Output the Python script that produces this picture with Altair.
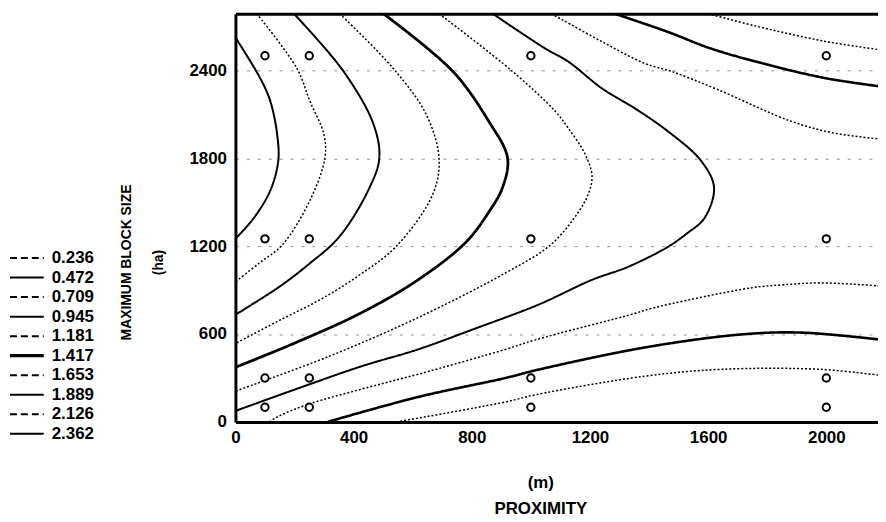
import altair as alt
import pandas as pd

FONT = "Liberation Sans"

levels = ["0.236", "0.472", "0.709", "0.945", "1.181", "1.417", "1.653", "1.889", "2.126", "2.362"]

# sampling grid (open circles)
sample_x = [100, 250, 1000, 2000]
sample_y = [100, 300, 1250, 2500]

x_ticks = [0, 400, 800, 1200, 1600, 2000]
y_ticks = [0, 600, 1200, 1800, 2400]

# contour traces (proximity m, block size ha)
c2362_x = [0, 84, 118, 141, 145, 118, 64, 0]
c2362_y = [2625, 2346, 2190, 1966, 1783, 1580, 1397, 1250]

c2126_x = [72, 208, 252, 299, 303, 252, 158, 81, 0]
c2126_y = [2787, 2414, 2190, 1966, 1803, 1512, 1207, 1085, 956]

c1889_x = [198, 366, 467, 487, 454, 352, 249, 148, 0]
c1889_y = [2787, 2393, 2034, 1803, 1600, 1265, 1078, 922, 732]

c1653_x = [353, 534, 645, 689, 669, 545, 420, 286, 141, 0]
c1653_y = [2787, 2414, 2102, 1803, 1559, 1200, 1003, 834, 685, 535]

c1417_x = [501, 736, 857, 921, 904, 860, 780, 618, 427, 205, 0]
c1417_y = [2787, 2393, 2054, 1803, 1600, 1440, 1227, 970, 746, 542, 373]

c1181_x = [689, 938, 1082, 1126, 1183, 1207, 1195, 1160, 1066, 914, 618, 316, 0]
c1181_y = [2787, 2393, 2122, 2007, 1831, 1681, 1560, 1430, 1207, 1017, 712, 447, 210]

c0945_x = [871, 1049, 1126, 1240, 1351, 1462, 1576, 1620, 1587, 1529, 1462, 1328, 1207, 1025, 803, 618, 427, 205, 0]
c0945_y = [2787, 2549, 2461, 2278, 2142, 1987, 1783, 1600, 1390, 1288, 1193, 1058, 970, 800, 631, 495, 380, 224, 75]

c0709_top_x = [1069, 1106, 1240, 1385, 1476, 1630, 1879, 2024, 2178]
c0709_top_y = [2787, 2746, 2597, 2448, 2393, 2271, 2054, 1973, 1932]
c0709_bot_x = [115, 148, 249, 427, 618, 914, 1015, 1351, 1408, 1745, 1855, 1980, 2178]
c0709_bot_y = [0, 41, 122, 224, 325, 495, 560, 740, 775, 915, 936, 949, 929]

c0472_top_x = [1284, 1462, 1610, 1798, 2000, 2178]
c0472_top_y = [2787, 2664, 2549, 2441, 2346, 2292]
c0472_bot_x = [312, 618, 914, 1015, 1385, 1711, 1913, 2178]
c0472_bot_y = [0, 170, 300, 352, 508, 597, 610, 563]

c0236_top_x = [1600, 1798, 2000, 2178]
c0236_top_y = [2787, 2685, 2597, 2542]
c0236_bot_x = [545, 914, 1015, 1385, 1644, 1980, 2178]
c0236_bot_y = [0, 136, 185, 312, 359, 359, 319]

segments = [
    ("2.362", "a", c2362_x, c2362_y),
    ("2.126", "a", c2126_x, c2126_y),
    ("1.889", "a", c1889_x, c1889_y),
    ("1.653", "a", c1653_x, c1653_y),
    ("1.417", "a", c1417_x, c1417_y),
    ("1.181", "a", c1181_x, c1181_y),
    ("0.945", "a", c0945_x, c0945_y),
    ("0.709", "top", c0709_top_x, c0709_top_y),
    ("0.709", "bot", c0709_bot_x, c0709_bot_y),
    ("0.472", "top", c0472_top_x, c0472_top_y),
    ("0.472", "bot", c0472_bot_x, c0472_bot_y),
    ("0.236", "top", c0236_top_x, c0236_top_y),
    ("0.236", "bot", c0236_bot_x, c0236_bot_y),
]

rows = []
for lev, seg, xs, ys in segments:
    for i, (xv, yv) in enumerate(zip(xs, ys)):
        rows.append({"level": lev, "seg": lev + "_" + seg, "ord": i, "x": xv, "y": yv})
lines_df = pd.DataFrame(rows)

points_df = pd.DataFrame([{"x": a, "y": b} for a in sample_x for b in sample_y])
legend_df = pd.DataFrame({"level": levels, "idx": list(range(len(levels)))})

# styles
chart_dash = [[2, 2], [1, 0], [2, 2], [1, 0], [2, 2], [1, 0], [2, 2], [1, 0], [2, 2], [1, 0]]
chart_width = [1.5, 2.6, 1.5, 2.0, 1.5, 2.8, 1.5, 2.0, 1.5, 2.0]
legend_dash = [[7, 4], [1, 0], [7, 4], [1, 0], [7, 4], [1, 0], [7, 4], [1, 0], [7, 4], [1, 0]]
legend_width = [2, 2, 2, 2, 2, 3.2, 2, 2, 2, 2]

xscale = alt.Scale(domain=[0, 2175], nice=False, zero=False)
yscale = alt.Scale(domain=[0, 2787], nice=False, zero=False)

x_axis = alt.Axis(
    values=x_ticks, format="d", title=["(m)", "PROXIMITY"],
    labelFont=FONT, labelFontSize=17, labelFontWeight="bold", labelColor="black",
    labelPadding=8, labelFlush=False, ticks=False, grid=False,
    domainColor="black", domainWidth=3,
    titleFont=FONT, titleFontSize=17, titleFontWeight="bold", titleColor="black",
    titleX=307, titleY=61, titleAlign="center", titleBaseline="middle", titleLineHeight=26,
)
top_axis = alt.Axis(orient="top", labels=False, ticks=False, title=None, grid=False,
                    domainColor="black", domainWidth=3)
y_axis = alt.Axis(
    values=y_ticks, format="d",
    title=["MAXIMUM BLOCK SIZE", "\u00a0" * 16 + "(ha)"],
    labelFont=FONT, labelFontSize=17, labelFontWeight="bold", labelColor="black",
    labelPadding=9, ticks=False,
    domainColor="black", domainWidth=3,
    grid=True, gridColor="#444444", gridDash=[3, 8], gridWidth=1, gridOpacity=0.6,
    titleFont=FONT, titleFontSize=14, titleFontWeight="bold", titleColor="black",
    titleAngle=270, titleX=-110, titleY=250, titleAlign="center", titleBaseline="middle",
    titleLineHeight=33,
)

lines = alt.Chart(lines_df).mark_line(
    clip=True, color="black", strokeCap="butt", interpolate="catmull-rom"
).encode(
    x=alt.X("x:Q", scale=xscale, axis=x_axis),
    y=alt.Y("y:Q", scale=yscale, axis=y_axis),
    detail="seg:N",
    order="ord:Q",
    strokeDash=alt.StrokeDash("level:N", scale=alt.Scale(domain=levels, range=chart_dash), legend=None),
    strokeWidth=alt.StrokeWidth("level:N", scale=alt.Scale(type="ordinal", domain=levels, range=chart_width), legend=None),
)

points = alt.Chart(points_df).mark_point(
    shape="circle", filled=True, fill="white", stroke="black", strokeWidth=2, size=55, opacity=1
).encode(
    x=alt.X("x:Q", scale=xscale, axis=top_axis),
    y=alt.Y("y:Q", scale=yscale),
)

main = alt.layer(lines, points).resolve_axis(x="independent")

leg_y = alt.Y("idx:Q", scale=alt.Scale(domain=[0, 9], range=[246, 423], nice=False, zero=False), axis=None)
leg_rules = alt.Chart(legend_df).mark_rule(color="black", strokeCap="butt").encode(
    x=alt.value(-227), x2=alt.value(-193), y=leg_y,
    strokeDash=alt.StrokeDash("level:N", scale=alt.Scale(domain=levels, range=legend_dash), legend=None),
    strokeWidth=alt.StrokeWidth("level:N", scale=alt.Scale(type="ordinal", domain=levels, range=legend_width), legend=None),
)
leg_text = alt.Chart(legend_df).mark_text(
    align="left", baseline="middle", font=FONT, fontSize=17, fontWeight="bold", color="black"
).encode(x=alt.value(-185), y=leg_y, text="level:N")
legend = alt.layer(leg_rules, leg_text)

chart = alt.layer(main, legend).resolve_scale(
    y="independent", strokeDash="independent", strokeWidth="independent"
).properties(
    width=647, height=411, autosize="none",
    padding={"left": 229, "top": 4, "right": 0, "bottom": 96},
    background="white",
).configure_view(stroke=None)

chart.save("out.html", embed_options={"renderer": "svg", "actions": False})
